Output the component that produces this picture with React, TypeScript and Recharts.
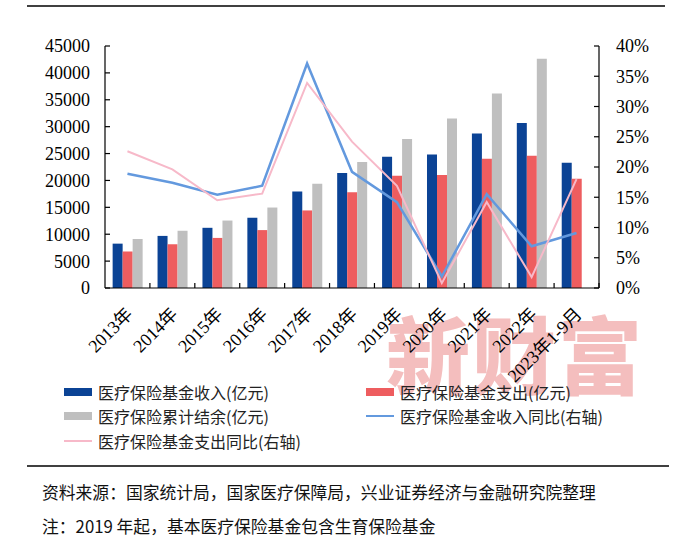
import { ComposedChart, Bar, Line, XAxis, YAxis } from "recharts";

const categories = ["2013年", "2014年", "2015年", "2016年", "2017年", "2018年", "2019年", "2020年", "2021年", "2022年", "2023年1-9月"];
const income = [8248, 9687, 11193, 13084, 17932, 21384, 24421, 24846, 28728, 30697, 23300];
const expense = [6801, 8134, 9312, 10767, 14422, 17822, 20854, 21032, 24043, 24597, 20300];
const balance: (number | null)[] = [9116, 10645, 12543, 14965, 19386, 23440, 27697, 31500, 36156, 42640, null];
const incomeYoY = [18.9, 17.4, 15.4, 16.9, 37.1, 19.2, 14.2, 1.9, 15.5, 6.9, 9.1];
const expenseYoY = [22.6, 19.6, 14.5, 15.6, 33.9, 24.2, 16.9, 0.8, 14.2, 1.8, 18.0];
const leftTicks = [0, 5000, 10000, 15000, 20000, 25000, 30000, 35000, 40000, 45000];
const rightTicks = [0, 5, 10, 15, 20, 25, 30, 35, 40];

const NAMES = {
  income: "医疗保险基金收入(亿元)",
  expense: "医疗保险基金支出(亿元)",
  balance: "医疗保险累计结余(亿元)",
  incomeYoY: "医疗保险基金收入同比(右轴)",
  expenseYoY: "医疗保险基金支出同比(右轴)",
};

const C = {
  income: "#0B4395",
  expense: "#EE5D5F",
  balance: "#BFBFBF",
  incomeYoY: "#6399DE",
  expenseYoY: "#F7B9C9",
};

const data = categories.map((name, i) => ({
  name,
  income: income[i],
  expense: expense[i],
  balance: balance[i],
  incomeYoY: incomeYoY[i],
  expenseYoY: expenseYoY[i],
}));

const SERIF = "'Liberation Serif', 'Times New Roman', 'Noto Sans CJK SC', serif";
const CJK = "'Noto Sans CJK SC', sans-serif";
const LEFT_MARGIN = 15;
const RIGHT_MARGIN = 17;
const X_MARGIN = 21;
const BAND = (599 - 105) / categories.length;

function LeftTick({ x, y, payload }: any) {
  return (
    <g>
      <line x1={x + LEFT_MARGIN} x2={x + LEFT_MARGIN + 5} y1={y} y2={y} stroke="#000" strokeWidth={1.2} />
      <text x={x} y={y} dy="0.36em" textAnchor="end" fontFamily={SERIF} fontSize={18} fill="#000">
        {payload.value}
      </text>
    </g>
  );
}

function RightTick({ x, y, payload }: any) {
  return (
    <g>
      <line x1={x - RIGHT_MARGIN - 5} x2={x - RIGHT_MARGIN} y1={y} y2={y} stroke="#000" strokeWidth={1.2} />
      <text x={x} y={y} dy="0.36em" textAnchor="start" fontFamily={SERIF} fontSize={18} fill="#000">
        {payload.value}%
      </text>
    </g>
  );
}

function XTick({ x, y, payload }: any) {
  const axisY = y - X_MARGIN;
  return (
    <g>
      <line x1={x + BAND / 2} x2={x + BAND / 2} y1={axisY} y2={axisY - 5} stroke="#000" strokeWidth={1.2} />
      <text
        x={x}
        y={y}
        dy="0.5em"
        textAnchor="end"
        transform={`rotate(-45, ${x}, ${y})`}
        fontFamily={SERIF}
        fontSize={18}
        fill="#000"
      >
        {payload.value}
      </text>
    </g>
  );
}

function Swatch({ kind, color }: { kind: "bar" | "line"; color: string }) {
  return (
    <span
      style={{
        display: "inline-block",
        width: 28,
        height: kind === "bar" ? 8 : 2,
        background: color,
        marginRight: 6,
        verticalAlign: "middle",
      }}
    />
  );
}

function LegendItem({ left, top, kind, color, label }: { left: number; top: number; kind: "bar" | "line"; color: string; label: string }) {
  return (
    <div style={{ position: "absolute", left, top, height: 20, lineHeight: "20px", fontFamily: CJK, fontSize: 16, color: "#222", whiteSpace: "nowrap" }}>
      <Swatch kind={kind} color={color} />
      <span style={{ verticalAlign: "middle" }}>{label}</span>
    </div>
  );
}

export default function App() {
  return (
    <div style={{ position: "absolute", left: 0, top: 0, width: 700, height: 545, background: "#fff", overflow: "hidden" }}>
      <div style={{ position: "absolute", left: 27, top: 5, width: 638, height: 2, background: "#404040" }} />
      <div
        style={{
          position: "absolute",
          left: 386,
          top: 302,
          fontFamily: CJK,
          fontWeight: 900,
          fontSize: 84,
          letterSpacing: 2,
          color: "#F4BEBE",
          lineHeight: "100px",
          whiteSpace: "nowrap",
        }}
      >
        新财富
      </div>
      <div style={{ position: "absolute", left: 0, top: 0 }}>
        <ComposedChart width={700} height={400} data={data} margin={{ top: 46, right: 0, left: 0, bottom: 0 }} barCategoryGap="17%" barGap={0}>
          <XAxis
            dataKey="name"
            interval={0}
            height={112}
            tickSize={0}
            tickMargin={X_MARGIN}
            axisLine={{ stroke: "#000", strokeWidth: 1.2 }}
            tickLine={false}
            tick={<XTick />}
          />
          <YAxis
            yAxisId="left"
            width={105}
            domain={[0, 45000]}
            ticks={leftTicks}
            tickSize={0}
            tickMargin={LEFT_MARGIN}
            axisLine={{ stroke: "#000", strokeWidth: 1.2 }}
            tickLine={false}
            tick={<LeftTick />}
          />
          <YAxis
            yAxisId="right"
            orientation="right"
            width={101}
            domain={[0, 40]}
            ticks={rightTicks}
            tickSize={0}
            tickMargin={RIGHT_MARGIN}
            axisLine={{ stroke: "#000", strokeWidth: 1.2 }}
            tickLine={false}
            tick={<RightTick />}
          />
          <Bar yAxisId="left" dataKey="income" name={NAMES.income} fill={C.income} isAnimationActive={false} />
          <Bar yAxisId="left" dataKey="expense" name={NAMES.expense} fill={C.expense} isAnimationActive={false} />
          <Bar yAxisId="left" dataKey="balance" name={NAMES.balance} fill={C.balance} isAnimationActive={false} />
          <Line yAxisId="right" dataKey="incomeYoY" name={NAMES.incomeYoY} stroke={C.incomeYoY} strokeWidth={2.5} dot={false} isAnimationActive={false} />
          <Line yAxisId="right" dataKey="expenseYoY" name={NAMES.expenseYoY} stroke={C.expenseYoY} strokeWidth={2} dot={false} isAnimationActive={false} />
        </ComposedChart>
      </div>
      <LegendItem left={64} top={379} kind="bar" color={C.income} label={NAMES.income} />
      <LegendItem left={366} top={379} kind="bar" color={C.expense} label={NAMES.expense} />
      <LegendItem left={64} top={403} kind="bar" color={C.balance} label={NAMES.balance} />
      <LegendItem left={366} top={403} kind="line" color={C.incomeYoY} label={NAMES.incomeYoY} />
      <LegendItem left={64} top={428} kind="line" color={C.expenseYoY} label={NAMES.expenseYoY} />
      <div style={{ position: "absolute", left: 27, top: 465, width: 642, height: 2, background: "#404040" }} />
      <div style={{ position: "absolute", left: 42, top: 480, fontFamily: CJK, fontSize: 16.8, color: "#111", whiteSpace: "nowrap", lineHeight: "24px" }}>
        资料来源：国家统计局，国家医疗保障局，兴业证券经济与金融研究院整理
      </div>
      <div style={{ position: "absolute", left: 42, top: 514, fontFamily: CJK, fontSize: 16.8, color: "#111", whiteSpace: "nowrap", lineHeight: "24px" }}>
        注：2019 年起，基本医疗保险基金包含生育保险基金
      </div>
    </div>
  );
}
